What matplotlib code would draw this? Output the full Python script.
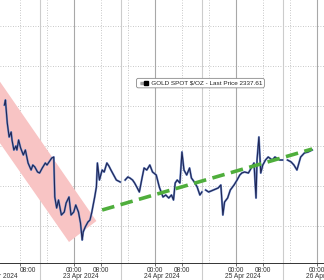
import matplotlib.pyplot as plt
from matplotlib.patches import Polygon

# hours since 22 Apr 2024 00:00, and gold spot price ($/oz)
hours = [3.5, 3.8, 4.35, 4.9, 5.5, 5.75, 6.3, 6.9, 7.2, 7.7, 8.3, 9.1, 9.7, 10.5, 11.4, 11.9,
         12.5, 13.3, 13.9, 14.7, 15.6, 16.1, 16.7, 17.5, 18.1, 18.4, 18.95, 19.5, 20.35, 21.2,
         21.75, 22.6, 23.2, 24.0, 24.6, 25.4, 26.0, 26.5, 26.8, 27.4, 28.2, 28.8, 29.3, 30.2,
         30.7, 31.0, 31.6, 32.4, 33.0, 33.8, 34.4, 35.0, 35.8, 36.6, 37.75, 38.3, 39.2, 40.0,
         40.6, 41.4, 42.0, 42.8, 43.4, 44.2, 44.8, 45.6, 46.5, 47.3, 48.4, 49.3, 50.4, 51.2,
         52.1, 52.9, 53.5, 54.0, 54.6, 55.4, 56.0, 56.6, 57.4, 58.25, 58.8, 59.65, 60.5, 61.3,
         61.9, 62.4, 63.0, 63.9, 65.3, 66.7, 67.5, 68.1, 68.6, 69.5, 70.3, 71.4, 72.3, 73.1,
         73.7, 74.5, 75.65, 76.5, 77.3, 77.9, 78.2, 78.75, 79.3, 79.9, 80.7, 81.5, 82.7, 83.5,
         84.9, 85.75, 86.4, 87.2, 88.3, 89.1, 90.0, 91.1, 92.2, 93.3, 94.5]
price = [2360.5, 2363, 2351.5, 2344.5, 2347, 2343, 2338, 2340, 2338, 2343, 2339, 2335.5, 2338,
         2331.5, 2328, 2330.5, 2329.5, 2327, 2326.5, 2329, 2331.5, 2330.5, 2332, 2334, 2334.5,
         2314.5, 2309, 2313, 2305.5, 2307, 2311.5, 2314.5, 2305.5, 2307, 2310.5, 2307, 2301.5,
         2293, 2297, 2299.5, 2302, 2303, 2306.5, 2314.5, 2319.5, 2331.5, 2323, 2328, 2327,
         2331.5, 2330, 2328, 2325.5, 2323, 2322, float('nan'), 2323, 2324.5, 2324, 2323, 2321.5,
         2319, 2317, 2324, 2329, 2328, 2330.5, 2327, 2325.5, 2319.5, 2314.5, 2315.5, 2314,
         2315.5, 2313, 2321.5, 2323, 2321.5, 2337, 2328, 2325.5, 2329, 2324, 2322, 2319.5,
         2315.5, 2317, float('nan'), 2318, 2317, 2318, 2319, 2320.5, 2305.5, 2312, 2314, 2318,
         2320.5, 2323, 2325.5, 2326.5, 2327, 2326.5, 2329, 2331.5, 2314, 2333, 2344.5, 2326.5,
         2330.5, 2333, 2334.5, 2333, 2334.5, 2333, 2333, float('nan'), 2333, 2332, 2330.5, 2328,
         2334.5, 2336.5, 2337, 2338]

# falling channel (pink) and rising trend (green)
channel_h = [-4.9, 30.7, 22.6, -4.9]
channel_p = [2389.5, 2302.5, 2292, 2358.6]
trend_h = [32.4, 94.5]
trend_p = [2308, 2338.5]

time_ticks = [8, 24, 32, 48, 56, 72, 80, 96]
time_labels = ["08:00", "00:00", "08:00", "00:00", "08:00", "00:00", "08:00", "00:00"]
date_pos = [2.2, 26, 50, 74, 98]
date_labels = ["22 Apr 2024", "23 Apr 2024", "24 Apr 2024", "25 Apr 2024", "26 Apr 2024"]
separators = [14, 38, 62, 86]
last_price = 2337.61

plt.rcParams['font.family'] = ['Liberation Sans', 'DejaVu Sans']

fig = plt.figure(figsize=(3.24, 2.8), dpi=100)
ax = fig.add_axes([0, 0.0607, 1, 0.9393])
ax.set_xlim(3.5, 94.46)
ax.set_ylim(2281.5, 2413)

# grid
for y in range(2300, 2401, 20):
    ax.axhline(y, color="#b5b5b5", lw=0.6, ls=(0, (1, 2)), zorder=0)
for h in [8, 16, 32, 40, 56, 64, 80, 88]:
    ax.axvline(h, color="#b5b5b5", lw=0.6, ls=(0, (1, 2)), zorder=0)
for h in [24, 48, 72, 96]:
    ax.axvline(h, color="#a8a8a8", lw=0.8, zorder=0)
for h in separators:
    ax.axvline(h, ymin=-0.065, ymax=1, color="#cccccc", lw=0.8, zorder=0, clip_on=False)

ax.add_patch(Polygon(list(zip(channel_h, channel_p)), closed=True,
                     facecolor="#f8c4c4", edgecolor="none", zorder=1))

ax.plot(hours, price, color="#7590cc", lw=1.5, zorder=2)
ax.plot(hours, price, color="#1e2656", lw=0.8, zorder=3)

ax.plot(trend_h, trend_p, color="#4fae3c", lw=2.6, ls=(0, (3.5, 1.8)), zorder=4)

# legend box
ax.text(0.428, 0.684, "       GOLD SPOT $/OZ - Last Price %.2f" % last_price,
        transform=ax.transAxes, fontsize=4.6, va="center", ha="left", color="#222222",
        bbox=dict(boxstyle="round,pad=0.35,rounding_size=0.3", fc="white", ec="#8a8a8a", lw=0.6),
        zorder=6)
ax.plot([0.437], [0.684], marker="$\\equiv$", ms=3, color="#a0a0a0", transform=ax.transAxes, zorder=7)
ax.plot([0.451], [0.684], marker="s", ms=3, color="black", transform=ax.transAxes, zorder=7)

for s in ["top", "left", "right"]:
    ax.spines[s].set_visible(False)
ax.spines["bottom"].set_color("#333333")
ax.spines["bottom"].set_linewidth(0.7)
ax.set_yticks([])

ax.set_xticks(time_ticks)
ax.set_xticklabels(time_labels)
ax.set_xticks(date_pos, minor=True)
ax.set_xticklabels(date_labels, minor=True)
ax.tick_params(axis="x", which="major", length=2, width=0.5, pad=1, labelsize=4.8, colors="#333333")
ax.tick_params(axis="x", which="minor", length=0, pad=7.5, labelsize=4.8, colors="#333333")
ax.get_xticklabels()[0].set_ha("left")

fig.savefig("out.png", dpi=100)
